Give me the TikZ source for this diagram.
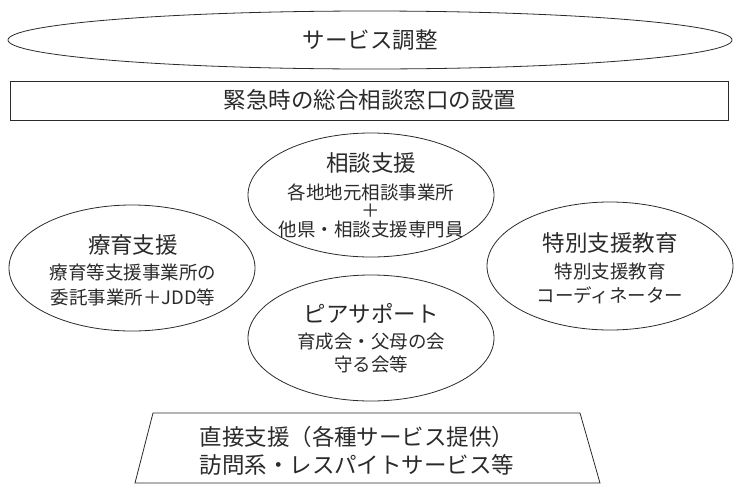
\documentclass[tikz,border=0pt]{standalone}
\usepackage{fontspec}
\setmainfont{Noto Sans CJK JP}
\usetikzlibrary{shapes.geometric}
\definecolor{ink}{HTML}{2A2A2A}
\tikzset{
  shapeline/.style={draw=ink, line width=0.8pt},
  oval/.style={shapeline, ellipse, inner sep=0pt},
  title/.style={text=ink, inner sep=0pt, font=\fontsize{22.5}{26}\selectfont},
  sub/.style={text=ink, inner sep=0pt, font=\fontsize{18.5}{22}\selectfont},
}
\begin{document}
\begin{tikzpicture}[x=1pt,y=-1pt]
\useasboundingbox (0,0) rectangle (740,496);
% top ellipse
\node[oval, minimum width=724pt, minimum height=58pt] (svc) at (370,40) {};
\node[title] (svct) at (370,40) {サービス調整};
% rectangle
\draw[shapeline] (10,81) rectangle (728,120);
\node[title] (emt) at (370,100) {緊急時の総合相談窓口の設置};
% soudan
\node[oval, minimum width=246pt, minimum height=124pt] (sod) at (371,195) {};
\node[title] (sodt) at (371,163) {相談支援};
\node[sub] (sod1) at (371,192) {各地地元相談事業所};
\node[sub] (sod2) at (371,211) {＋};
\node[sub] (sod3) at (371,229) {他県・相談支援専門員};
% ryouiku
\node[oval, minimum width=246pt, minimum height=126pt] (ryo) at (132,268) {};
\node[title] (ryot) at (133,245) {療育支援};
\node[sub] (ryo1) at (133,272) {療育等支援事業所の};
\node[sub] (ryo2) at (133,297) {委託事業所＋JDD等};
% tokubetsu
\node[oval, minimum width=246pt, minimum height=128pt] (tok) at (610,266) {};
\node[title] (tokt) at (610,243) {特別支援教育};
\node[sub] (tok1) at (610,271) {特別支援教育};
\node[sub] (tok2) at (610,295) {コーディネーター};
% peer
\node[oval, minimum width=246pt, minimum height=126pt] (peer) at (371,338) {};
\node[title] (peert) at (371,313) {ピアサポート};
\node[sub] (peer1) at (371,342) {育成会・父母の会};
\node[sub] (peer2) at (371,364) {守る会等};
% trapezoid
\draw[shapeline] (153,413) -- (580,413) -- (600,483) -- (135,483) -- cycle;
\node[title] (dir1) at (357,437) {直接支援（各種サービス提供）};
\node[title] (dir2) at (357,465) {訪問系・レスパイトサービス等};
\end{tikzpicture}
\end{document}
